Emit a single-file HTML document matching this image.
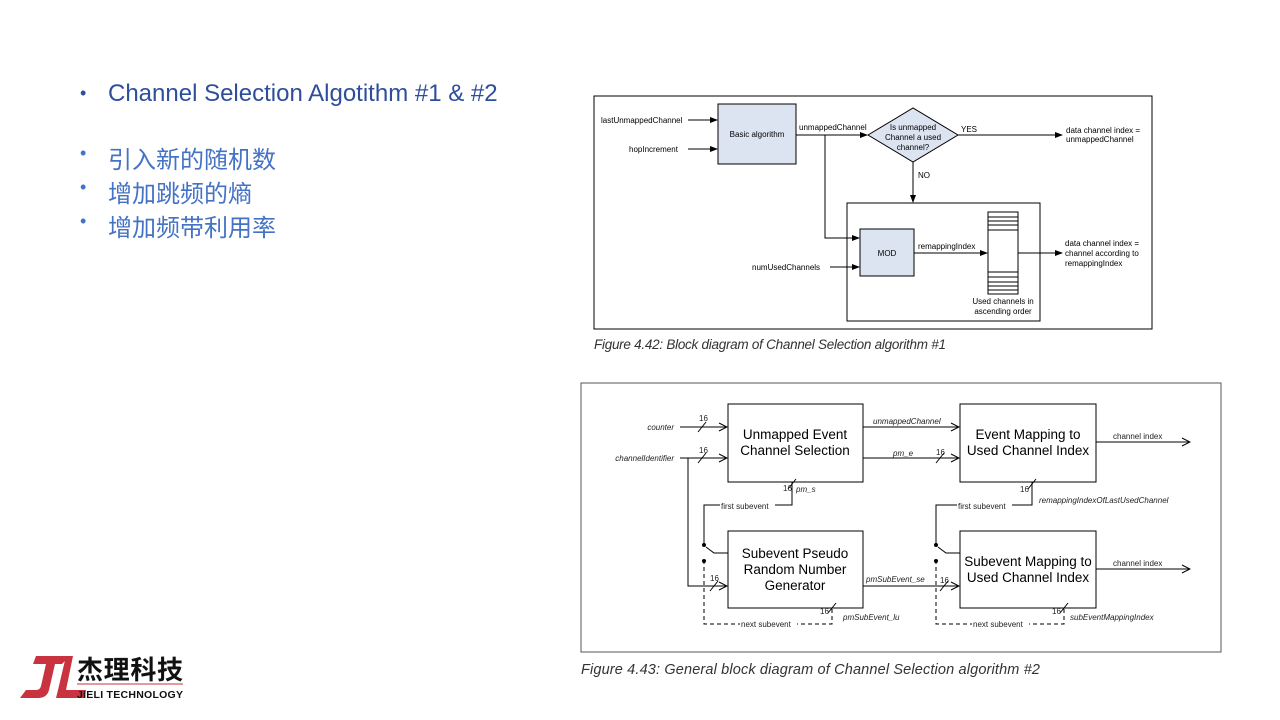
<!DOCTYPE html>
<html><head><meta charset="utf-8"><style>
body{margin:0;width:1280px;height:720px;background:#fff;overflow:hidden;position:relative;font-family:"Liberation Sans","Noto Sans CJK SC",sans-serif}
.b{position:absolute;left:80px;font-size:24px;}
.b span{position:absolute;left:28px;white-space:nowrap}
.d{font-size:18px;position:absolute;left:0;top:3px}
</style></head><body>
<div class="b" style="top:80px;color:#2e4e9c"><i class="d" style="font-style:normal">•</i><span style="top:0">Channel Selection Algotithm #1 &amp; #2</span></div>
<div class="b" style="top:140px;color:#4472c4"><i class="d" style="font-style:normal">•</i><span>引入新的随机数</span></div>
<div class="b" style="top:174px;color:#4472c4"><i class="d" style="font-style:normal">•</i><span>增加跳频的熵</span></div>
<div class="b" style="top:208px;color:#4472c4"><i class="d" style="font-style:normal">•</i><span>增加频带利用率</span></div>

<svg width="1280" height="720" style="position:absolute;left:0;top:0" font-family="Liberation Sans, sans-serif">
<defs>
<marker id="a" markerWidth="8" markerHeight="8" refX="7" refY="4" orient="auto" markerUnits="userSpaceOnUse"><path d="M0,1 L8,4 L0,7z" fill="#000"/></marker>
<marker id="o" markerWidth="10" markerHeight="10" refX="9" refY="5" orient="auto" markerUnits="userSpaceOnUse"><path d="M1,1 L9,5 L1,9" fill="none" stroke="#000" stroke-width="1"/></marker>
</defs>
<!-- Figure 1 -->
<g stroke="#000" stroke-width="1" fill="none">
<rect x="594" y="96" width="558" height="233"/>
<rect x="718" y="104" width="78" height="60" fill="#dde4f1"/>
<polygon points="868,135 913,108 958,135 913,162" fill="#dde4f1"/>
<rect x="847" y="203" width="193" height="118"/>
<rect x="860" y="229" width="54" height="47" fill="#dde4f1"/>
<rect x="988" y="212" width="30" height="82"/>
<path d="M988,217H1018M988,221H1018M988,225H1018M988,230H1018M988,272H1018M988,277H1018M988,282H1018M988,286H1018M988,290H1018"/>
<line x1="688" y1="120" x2="717" y2="120" marker-end="url(#a)"/>
<line x1="688" y1="149" x2="717" y2="149" marker-end="url(#a)"/>
<line x1="796" y1="135" x2="867" y2="135" marker-end="url(#a)"/>
<polyline points="825,135 825,238 859,238" marker-end="url(#a)"/>
<line x1="830" y1="267" x2="859" y2="267" marker-end="url(#a)"/>
<line x1="958" y1="135" x2="1062" y2="135" marker-end="url(#a)"/>
<line x1="913" y1="162" x2="913" y2="202" marker-end="url(#a)"/>
<line x1="914" y1="253" x2="987" y2="253" marker-end="url(#a)"/>
<line x1="1018" y1="253" x2="1062" y2="253" marker-end="url(#a)"/>
</g>
<g font-size="8" fill="#000">
<text x="601" y="123">lastUnmappedChannel</text>
<text x="629" y="152">hopIncrement</text>
<text x="757" y="137" text-anchor="middle">Basic algorithm</text>
<text x="799" y="130">unmappedChannel</text>
<text x="913" y="130" text-anchor="middle">Is unmapped</text>
<text x="913" y="140" text-anchor="middle">Channel a used</text>
<text x="913" y="150" text-anchor="middle">channel?</text>
<text x="961" y="132">YES</text>
<text x="918" y="178">NO</text>
<text x="1066" y="133">data channel index =</text>
<text x="1066" y="142">unmappedChannel</text>
<text x="752" y="270">numUsedChannels</text>
<text x="887" y="256" text-anchor="middle">MOD</text>
<text x="918" y="249">remappingIndex</text>
<text x="1065" y="246">data channel index =</text>
<text x="1065" y="256">channel according to</text>
<text x="1065" y="266">remappingIndex</text>
<text x="1003" y="304" text-anchor="middle">Used channels in</text>
<text x="1003" y="314" text-anchor="middle">ascending order</text>
</g>
<text x="594" y="349" font-size="13.5" font-style="italic" fill="#333" textLength="352">Figure 4.42:  Block diagram of Channel Selection algorithm #1</text>

<!-- Figure 2 -->
<g stroke="#000" stroke-width="1" fill="none">
<rect x="581" y="383" width="640" height="269" stroke="#555"/>
<rect x="728" y="404" width="135" height="78"/>
<rect x="960" y="404" width="136" height="78"/>
<rect x="728" y="531" width="135" height="77"/>
<rect x="960" y="531" width="136" height="77"/>
<line x1="680" y1="427" x2="727" y2="427" marker-end="url(#o)"/>
<line x1="680" y1="458" x2="727" y2="458" marker-end="url(#o)"/>
<polyline points="688,458 688,586 727,586" marker-end="url(#o)"/>
<line x1="863" y1="427" x2="959" y2="427" marker-end="url(#o)"/>
<line x1="863" y1="458" x2="959" y2="458" marker-end="url(#o)"/>
<line x1="1096" y1="442" x2="1190" y2="442" marker-end="url(#o)"/>
<line x1="1096" y1="569" x2="1190" y2="569" marker-end="url(#o)"/>
<line x1="863" y1="586" x2="959" y2="586" marker-end="url(#o)"/>
<polyline points="792,482 792,505 704,505 704,545"/>
<polyline points="1032,482 1032,505 936,505 936,545"/>
<path d="M706,547 L714,553 H728 M938,547 L946,553 H960"/>
<path d="M704,560 V624 H832 V608 M936,560 V624 H1064 V608" stroke-dasharray="4,3"/>
<path d="M698,432 L706,422 M698,463 L706,453 M710,591 L718,581 M788,489 L796,479 M936,463 L944,453 M940,591 L948,581 M1028,489 L1036,479 M828,613 L836,603 M1060,613 L1068,603"/>
</g>
<g fill="#fff"><rect x="720" y="500" width="55" height="10"/><rect x="957" y="500" width="55" height="10"/><rect x="740" y="619" width="57" height="10"/><rect x="972" y="619" width="57" height="10"/></g>
<g fill="#000"><circle cx="704" cy="545" r="2"/><circle cx="704" cy="561" r="2"/><circle cx="936" cy="545" r="2"/><circle cx="936" cy="561" r="2"/></g>
<g font-size="8" fill="#222">
<text x="674" y="430" text-anchor="end" font-style="italic">counter</text>
<text x="674" y="461" text-anchor="end" font-style="italic">channelIdentifier</text>
<text x="699" y="421">16</text><text x="699" y="453">16</text><text x="710" y="581">16</text>
<text x="783" y="491">16</text><text x="936" y="455">16</text><text x="940" y="583">16</text>
<text x="1020" y="492">16</text><text x="820" y="614">16</text><text x="1052" y="614">16</text>
<g font-style="italic">
<text x="796" y="492">pm_s</text>
<text x="873" y="424">unmappedChannel</text>
<text x="893" y="456">pm_e</text>
<text x="866" y="582">pmSubEvent_se</text>
<text x="1039" y="503">remappingIndexOfLastUsedChannel</text>
<text x="843" y="620">pmSubEvent_lu</text>
<text x="1070" y="620">subEventMappingIndex</text>
</g>
<text x="1113" y="439">channel index</text>
<text x="1113" y="566">channel index</text>
<text x="721" y="509">first subevent</text>
<text x="958" y="509">first subevent</text>
<text x="741" y="627">next subevent</text>
<text x="973" y="627">next subevent</text>
</g>
<g font-size="13.5" fill="#000" text-anchor="middle">
<text x="795" y="439">Unmapped Event</text><text x="795" y="455">Channel Selection</text>
<text x="1028" y="439">Event Mapping to</text><text x="1028" y="455">Used Channel Index</text>
<text x="795" y="558">Subevent Pseudo</text><text x="795" y="574">Random Number</text><text x="795" y="590">Generator</text>
<text x="1028" y="566">Subevent Mapping to</text><text x="1028" y="582">Used Channel Index</text>
</g>
<text x="581" y="674" font-size="14.5" font-style="italic" fill="#333" textLength="459">Figure 4.43:  General block diagram of Channel Selection algorithm #2</text>

<!-- Logo -->
<path d="M36,656 H70 L62,664 H55 L49,690 Q47,698 38,698 H20 L26,690 H36 Q40,690 41,686 L46,664 H33z" fill="#c8333f"/>
<path d="M58,690 L66,656 H73 L66,690 H86 L84,698 H56z" fill="#c8333f"/>
<text x="77" y="679" font-size="26" font-weight="bold" font-family="Noto Sans CJK SC, sans-serif" fill="#111" textLength="106">杰理科技</text>
<line x1="77" y1="684" x2="183" y2="684" stroke="#c8333f" stroke-width="1"/>
<text x="77" y="698" font-size="10.5" font-weight="bold" fill="#111" textLength="106">JIELI TECHNOLOGY</text>
</svg>
</body></html>
